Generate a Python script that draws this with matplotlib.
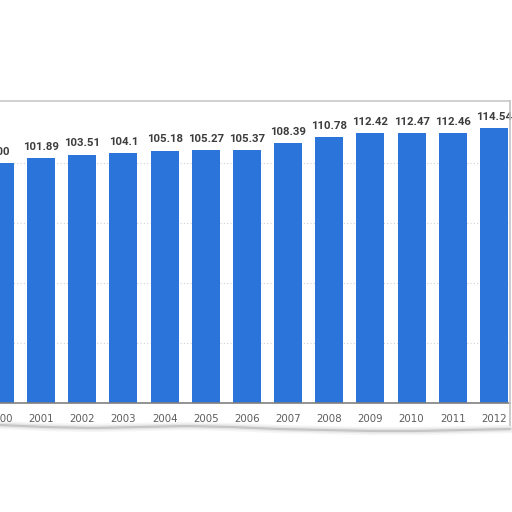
import matplotlib
matplotlib.use("Agg")
import matplotlib.pyplot as plt
import numpy as np

years = ["2000", "2001", "2002", "2003", "2004", "2005", "2006",
         "2007", "2008", "2009", "2010", "2011", "2012"]
values = [100, 101.89, 103.51, 104.1, 105.18, 105.27, 105.37,
          108.39, 110.78, 112.42, 112.47, 112.46, 114.54]
value_labels = ["100", "101.89", "103.51", "104.1", "105.18", "105.27", "105.37",
                "108.39", "110.78", "112.42", "112.47", "112.46", "114.54"]

BAR = "#2b74d9"

fig = plt.figure(figsize=(5.12, 5.12), dpi=100)
fig.patch.set_facecolor("white")

# axes: baseline at y=403px, top border at y=101px, spanning x 0..510px
ax = fig.add_axes([0.0, (512 - 403) / 512, 510 / 512, (403 - 101) / 512])
ax.set_facecolor("white")

x = np.arange(len(years))
ax.bar(x, values, width=0.68, color=BAR, zorder=3)

for xi, v, lab in zip(x, values, value_labels):
    ax.text(xi, v + 2.6, lab, ha="center", va="bottom", fontsize=8.2,
            fontweight="bold", family=["Roboto", "DejaVu Sans"],
            color="#3d3d3d", zorder=4)

ax.set_xlim(0.031, 12.39)
ax.set_ylim(0, 125.8)

ax.set_yticks([25, 50, 75, 100])
ax.yaxis.grid(True, color="#d2d2d2", linestyle=(0, (1, 2)), linewidth=0.8, zorder=0)
ax.tick_params(axis="y", left=False, labelleft=False)

ax.set_xticks(x)
ax.set_xticklabels(years, fontsize=7.4, color="#5e5e5e")
ax.tick_params(axis="x", length=0, pad=8)

for s in ["left", "right"]:
    ax.spines[s].set_visible(False)
ax.spines["top"].set_color("#c8c8c8")
ax.spines["top"].set_linewidth(1.2)
ax.spines["bottom"].set_color("#808080")
ax.spines["bottom"].set_linewidth(1.2)
ax.spines["bottom"].set_zorder(5)

# right border of the panel
fig.add_artist(plt.Line2D([510 / 512, 510 / 512], [(512 - 101) / 512, (512 - 425) / 512],
                          transform=fig.transFigure, color="#c4c4c4", linewidth=1.2))

# torn-paper shadow under the labels
xs = np.linspace(0, 510, 60) / 512
ys_px = np.array([425, 427, 428, 427, 426, 427, 429, 430, 431, 431, 430, 429])
ys = np.interp(np.linspace(0, 1, 60), np.linspace(0, 1, len(ys_px)), ys_px)
for lw, a in [(6, 0.08), (3.5, 0.15), (1.5, 0.35)]:
    fig.add_artist(plt.Line2D(xs, (512 - ys) / 512, transform=fig.transFigure,
                              color="#8a8a8a", linewidth=lw, alpha=a,
                              solid_capstyle="round"))

fig.savefig("out.png", dpi=100, facecolor="white")
